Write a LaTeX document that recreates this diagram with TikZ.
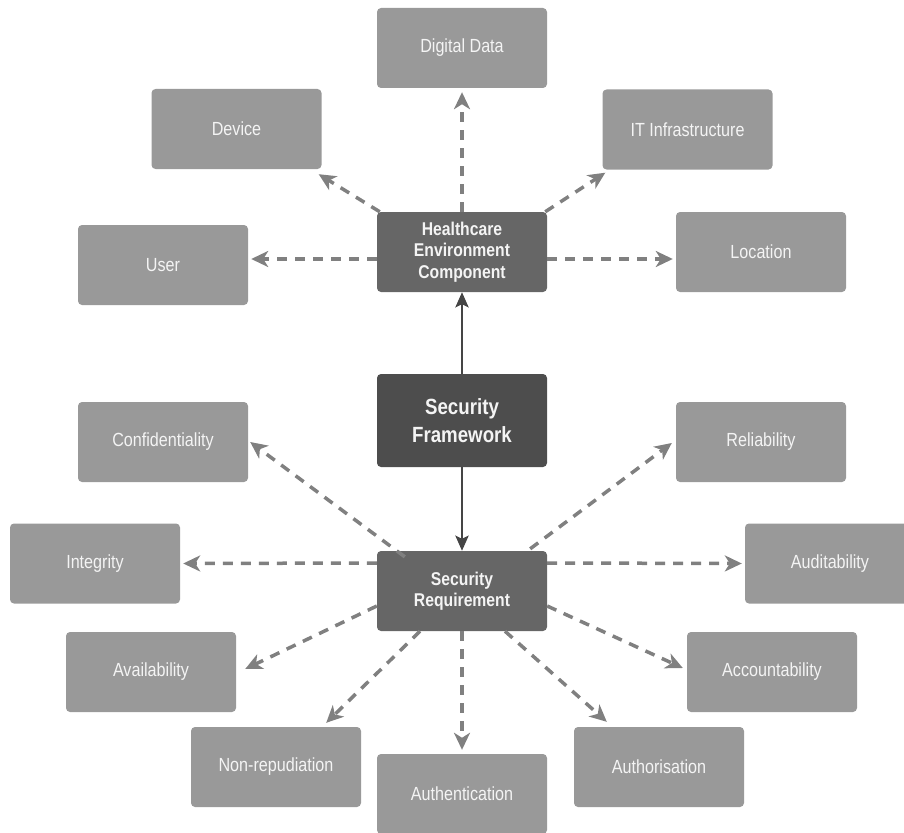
\documentclass[tikz,border=0pt]{standalone}
\usepackage{fontspec}
\setmainfont[FakeStretch=0.85]{Liberation Sans}
\usetikzlibrary{arrows.meta,calc}
\definecolor{leaf}{HTML}{999999}
\definecolor{hub}{HTML}{666666}
\definecolor{core}{HTML}{4D4D4D}
\definecolor{link}{HTML}{808080}
\definecolor{solidlink}{HTML}{454545}
\definecolor{label}{HTML}{F4F4F4}
\tikzset{
  box/.style={rectangle, rounded corners=4pt, fill=leaf, draw=none,
    minimum width=170pt, minimum height=80pt, text=label, align=center,
    inner sep=0pt, font=\fontsize{19}{22}\selectfont},
  hubbox/.style={box, fill=hub, font=\fontsize{18.5}{21.5}\selectfont\bfseries},
  corebox/.style={box, fill=core, minimum height=93pt,
    font=\fontsize{22}{28}\selectfont\bfseries},
  dlink/.style={draw=link, line width=3.5pt, dash pattern=on 10pt off 8pt,
    -{Stealth[length=17pt,width=16pt,inset=5pt]}},
  slink/.style={draw=solidlink, line width=2.8pt,
    -{Stealth[length=15pt,width=13pt,inset=3pt]}},
}
\begin{document}
\begin{tikzpicture}[x=1pt,y=-1pt]
\useasboundingbox (0,0) rectangle (904,832);

% central chain
\node[hubbox]  (hec) at (462,252) {Healthcare\\Environment\\Component};
\node[corebox] (sf)  at (462,420.5) {Security\\Framework};
\node[hubbox]  (sr)  at (462,591) {Security\\Requirement};

% environment components
\node[box] (dd)   at (462,48)    {Digital Data};
\node[box] (dev)  at (236.5,129) {Device};
\node[box] (it)   at (687.5,129.5) {IT Infrastructure};
\node[box] (user) at (163,265)   {User};
\node[box] (loc)  at (761,252)   {Location};

% security requirements
\node[box] (conf)   at (163,442)   {Confidentiality};
\node[box] (rel)    at (761,442)   {Reliability};
\node[box] (integ)  at (95,563.5)  {Integrity};
\node[box] (aud)    at (830,563.5) {Auditability};
\node[box] (avail)  at (151,672)   {Availability};
\node[box] (acc)    at (772,672)   {Accountability};
\node[box] (nonrep) at (276,767)   {Non-repudiation};
\node[box] (authn)  at (462,794)   {Authentication};
\node[box] (authz)  at (659,767)   {Authorisation};

% framework links
\draw[slink] (sf.north) -- (hec.south);
\draw[slink] (sf.south) -- (sr.north);

% environment links
\draw[dlink] (hec.north) -- ($(dd.south)+(0,4)$);
\draw[dlink] ($(hec.north west)+(3,0)$) -- ($(dev.south east)+(-3,5)$);
\draw[dlink] ($(hec.north east)+(-2,0)$) -- ($(it.south west)+(3,3)$);
\draw[dlink] ($(hec.west)+(0,7)$) -- ($(user.east)+(3,-6)$);
\draw[dlink] ($(hec.east)+(0,7)$) -- ($(loc.west)+(-3,7)$);

% requirement links
\draw[dlink] ($(sr.north west)+(28,6)$) -- ($(conf.east)+(2,0)$);
\draw[dlink] ($(sr.north east)+(-17,-2)$) -- ($(rel.west)+(-4,1)$);
\draw[dlink] ($(sr.west)+(0,-28)$) -- ($(integ.east)+(3,0)$);
\draw[dlink] ($(sr.east)+(0,-28)$) -- ($(aud.west)+(-3,0)$);
\draw[dlink] ($(sr.west)+(0,15)$) -- ($(avail.east)+(9,-3)$);
\draw[dlink] ($(sr.east)+(0,15)$) -- ($(acc.west)+(-4,-4)$);
\draw[dlink] ($(sr.south)+(-42,0)$) -- ($(nonrep.north east)+(-35,-4)$);
\draw[dlink] ($(sr.south)+(43,0)$) -- ($(authz.north west)+(33,-5)$);
\draw[dlink] (sr.south) -- ($(authn.north)+(0,-4)$);
\end{tikzpicture}
\end{document}
